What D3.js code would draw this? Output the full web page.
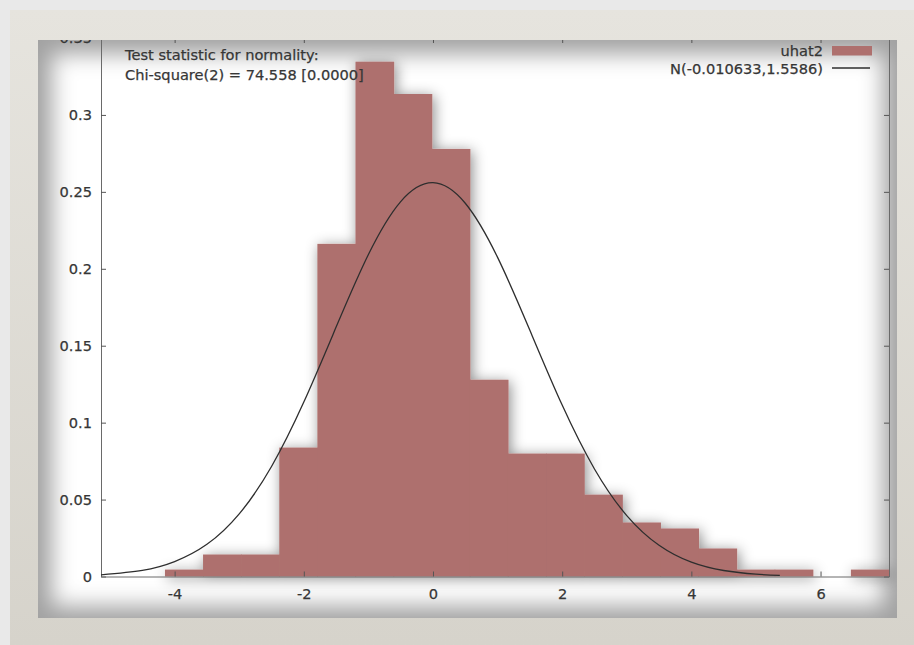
<!DOCTYPE html>
<html>
<head>
<meta charset="utf-8">
<script src="https://cdn.jsdelivr.net/npm/d3@7"></script>
<style>
body { margin: 0; background: #e8e8e8; }
svg { display: block; font-family: "DejaVu Sans", sans-serif; }
</style>
</head>
<body>
<svg id="chart" width="914" height="645"></svg>
<script>
// histogram bins (left edge, width) and density
var binLefts = [-4.15, -3.56, -2.97, -2.38, -1.79, -1.20, -0.61, -0.02, 0.57, 1.16,
    1.75, 2.34, 2.93, 3.52, 4.11, 4.70, 5.29, 5.88, 6.47];
var binWidth = 0.59;
var density = [0.0045, 0.0143, 0.0143, 0.0838, 0.2162, 0.3346, 0.3136, 0.2779, 0.1279, 0.0799,
    0.0799, 0.0532, 0.0351, 0.0312, 0.0182, 0.0045, 0.0045, 0, 0.0045];

// normal curve points
var curveX = [-5.14, -4.5, -4, -3.5, -3, -2.5, -2, -1.5, -1, -0.5, 0, 0.5, 1, 1.5, 2, 2.5, 3, 3.5, 4, 4.5, 5, 5.37];
var curveY = [0.0011, 0.0040, 0.0097, 0.0209, 0.0407, 0.0715, 0.1134, 0.1621, 0.2093, 0.2437, 0.2560,
    0.2426, 0.2074, 0.1600, 0.1114, 0.0699, 0.0396, 0.0203, 0.0093, 0.0039, 0.0015, 0.0007];

var xTicks = [-4, -2, 0, 2, 4, 6];
var xTickLabels = ["-4", "-2", "0", "2", "4", "6"];
var yTicks = [0, 0.05, 0.1, 0.15, 0.2, 0.25, 0.3, 0.35];
var yTickLabels = ["0", "0.05", "0.1", "0.15", "0.2", "0.25", "0.3", "0.35"];
var statLines = ["Test statistic for normality:", "Chi-square(2) = 74.558 [0.0000]"];
var legendLabels = ["uhat2", "N(-0.010633,1.5586)"];
var xLabel = "uhat2";

var barColor = "#ae706e";
var inkColor = "#363636";
var fontSize = 14.6;

function drawChart() {
    let svg = d3.select("#chart");
    let defs = svg.append("defs");

    defs.append("clipPath").attr("id", "panelClip")
        .append("rect").attr("x", 38).attr("y", 40).attr("width", 859).attr("height", 578);

    defs.append("filter").attr("id", "soft")
        .attr("x", "-10%").attr("y", "-10%").attr("width", "120%").attr("height", "120%")
        .append("feGaussianBlur").attr("stdDeviation", 11);

    let shadow = defs.append("filter").attr("id", "barShadow")
        .attr("x", "-20%").attr("y", "-20%").attr("width", "140%").attr("height", "140%");
    shadow.append("feDropShadow")
        .attr("dx", 2).attr("dy", 2).attr("stdDeviation", 7)
        .attr("flood-color", "#000").attr("flood-opacity", 0.45);

    let frameGrad = defs.append("linearGradient").attr("id", "frameGrad")
        .attr("x1", 0).attr("y1", 0).attr("x2", 0).attr("y2", 1);
    frameGrad.append("stop").attr("offset", "0%").attr("stop-color", "#e6e4de");
    frameGrad.append("stop").attr("offset", "100%").attr("stop-color", "#d6d3cb");

    // page + beige frame
    svg.append("rect").attr("width", 914).attr("height", 645).attr("fill", "#e9e9e9");
    svg.append("rect").attr("x", 10).attr("y", 10).attr("width", 904).attr("height", 635)
        .attr("fill", "url(#frameGrad)");

    // picture panel with vignette
    let panel = svg.append("g").attr("clip-path", "url(#panelClip)");
    panel.append("rect").attr("x", 38).attr("y", 40).attr("width", 859).attr("height", 578)
        .attr("fill", "#a2a2a2");
    panel.append("rect").attr("x", 52).attr("y", 54).attr("width", 831).attr("height", 552)
        .attr("fill", "#fff").attr("filter", "url(#soft)");

    let x = d3.scaleLinear().domain([-5.14, 7.06]).range([101, 889]);
    let y = d3.scaleLinear().domain([0, 0.35]).range([576.5, 38]);

    // bars
    panel.append("g").attr("filter", "url(#barShadow)")
        .selectAll(".bar")
        .data(density)
        .enter().append("rect")
        .attr("class", "bar")
        .attr("x", function (d, i) { return x(binLefts[i]); })
        .attr("width", function (d, i) { return x(binLefts[i] + binWidth) - x(binLefts[i]) + 0.6; })
        .attr("y", function (d) { return y(d); })
        .attr("height", function (d) { return y(0) - y(d); })
        .attr("fill", barColor);

    // axes, gnuplot style (ticks inward, mirrored)
    let axisStyle = function (g) {
        g.select(".domain").attr("stroke", "#6a6a6a");
        g.selectAll(".tick line").attr("stroke", "#555");
        g.selectAll(".tick text").attr("fill", inkColor).attr("font-size", fontSize)
            .attr("font-family", "DejaVu Sans, sans-serif")
            .attr("stroke", inkColor).attr("stroke-width", 0.25);
    };

    panel.append("g").attr("transform", "translate(101,0)")
        .call(d3.axisLeft(y).tickValues(yTicks).tickFormat(function (d, i) { return yTickLabels[i]; })
            .tickSize(-5).tickSizeOuter(0).tickPadding(9))
        .call(axisStyle);
    panel.append("g").attr("transform", "translate(889,0)")
        .call(d3.axisRight(y).tickValues(yTicks).tickFormat("").tickSize(-5).tickSizeOuter(0))
        .call(axisStyle);
    panel.append("g").attr("transform", "translate(0,576.5)")
        .call(d3.axisBottom(x).tickValues(xTicks).tickFormat(function (d, i) { return xTickLabels[i]; })
            .tickSize(-5).tickSizeOuter(0).tickPadding(12.5))
        .call(axisStyle);
    panel.append("g").attr("transform", "translate(0,38)")
        .call(d3.axisTop(x).tickValues(xTicks).tickFormat("").tickSize(-5).tickSizeOuter(0))
        .call(axisStyle);

    // normal density curve
    let line = d3.line()
        .x(function (d, i) { return x(curveX[i]); })
        .y(function (d) { return y(d); })
        .curve(d3.curveNatural);
    panel.append("path").datum(curveY)
        .attr("d", line)
        .attr("fill", "none")
        .attr("stroke", "#2e2e2e")
        .attr("stroke-width", 1.3);

    let textStyle = function (t) {
        t.attr("font-size", fontSize)
            .attr("fill", inkColor)
            .attr("stroke", inkColor)
            .attr("stroke-width", 0.25);
    };

    // test statistic
    panel.selectAll(".stat")
        .data(statLines)
        .enter().append("text")
        .attr("class", "stat")
        .attr("x", 125)
        .attr("y", function (d, i) { return 59.5 + i * 20.5; })
        .call(textStyle)
        .text(function (d) { return d; });

    // legend
    panel.selectAll(".legendText")
        .data(legendLabels)
        .enter().append("text")
        .attr("class", "legendText")
        .attr("x", 823)
        .attr("y", function (d, i) { return 55.5 + i * 18; })
        .attr("text-anchor", "end")
        .call(textStyle)
        .text(function (d) { return d; });
    panel.append("rect").attr("x", 832).attr("y", 46).attr("width", 40).attr("height", 9.5)
        .attr("fill", barColor);
    panel.append("line").attr("x1", 832).attr("x2", 870).attr("y1", 68).attr("y2", 68)
        .attr("stroke", "#2e2e2e").attr("stroke-width", 1.3);

    // x axis title, cut off by the panel edge
    panel.append("text")
        .attr("x", (x.range()[0] + x.range()[1]) / 2)
        .attr("y", 629)
        .attr("text-anchor", "middle")
        .call(textStyle)
        .text(xLabel);
}

drawChart();
</script>
</body>
</html>
